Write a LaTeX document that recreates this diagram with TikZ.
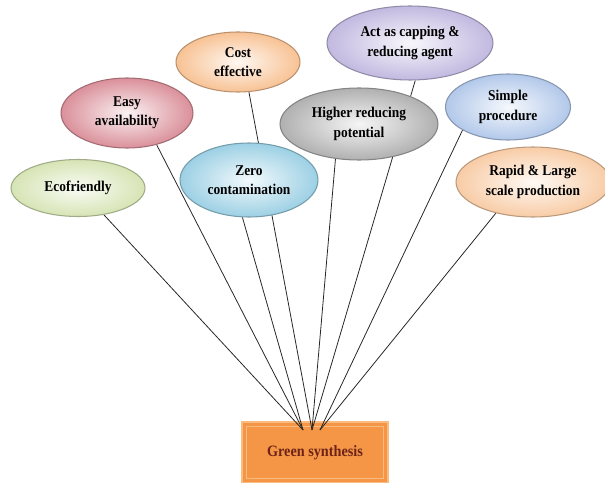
\documentclass[tikz,border=0pt]{standalone}
\usepackage{fontspec}
\setmainfont[FakeStretch=0.9]{Liberation Serif}
\usetikzlibrary{shapes.geometric,backgrounds}

\definecolor{ecoC}{RGB}{214,228,180}
\definecolor{easyC}{RGB}{218,144,154}
\definecolor{costC}{RGB}{248,194,148}
\definecolor{zeroC}{RGB}{156,208,228}
\definecolor{higherC}{RGB}{176,176,176}
\definecolor{actC}{RGB}{194,185,224}
\definecolor{simpleC}{RGB}{178,200,234}
\definecolor{rapidC}{RGB}{248,204,166}
\definecolor{boxC}{RGB}{244,150,70}
\definecolor{boxEdge}{RGB}{248,188,128}
\definecolor{gsText}{RGB}{110,35,25}

\tikzset{
  bubble/.style={ellipse, draw=#1!75!black, line width=0.6pt,
    inner color=#1!12!white, outer color=#1, inner sep=0pt, align=center,
    font=\fontsize{8.5}{11}\selectfont\bfseries},
  spoke/.style={draw=black!85, line width=0.45pt}
}

\begin{document}
\begin{tikzpicture}[x=0.02cm,y=-0.02cm]
    \useasboundingbox (0,0) rectangle (605,483);

    % Benefit bubbles
    \node[bubble=ecoC, minimum width=2.68cm, minimum height=1.14cm] (eco) at (78,188) {Ecofriendly};
    \node[bubble=easyC, minimum width=2.64cm, minimum height=1.40cm] (easy) at (127,113) {Easy\\availability};
    \node[bubble=costC, minimum width=2.48cm, minimum height=1.20cm] (cost) at (238,62) {Cost\\effective};
    \node[bubble=zeroC, minimum width=2.76cm, minimum height=1.48cm] (zero) at (249,180) {Zero\\contamination};
    \node[bubble=actC, minimum width=3.32cm, minimum height=1.48cm] (act) at (410,43) {Act as capping \&\\reducing agent};
    \node[bubble=higherC, minimum width=3.16cm, minimum height=1.44cm] (higher) at (359,124) {Higher reducing\\potential};
    \node[bubble=simpleC, minimum width=2.50cm, minimum height=1.32cm] (simple) at (508,107) {Simple\\procedure};
    \node[bubble=rapidC, minimum width=3.08cm, minimum height=1.40cm] (rapid) at (533,182) {Rapid \& Large\\scale production};

    \begin{scope}[on background layer]
      % Green synthesis box
      \node[draw=boxEdge, line width=1.6pt, fill=boxC, minimum width=2.92cm, minimum height=1.22cm,
        font=\fontsize{9}{10}\selectfont\bfseries, text=gsText] (gs) at (315,452.5) {Green synthesis};
      \draw[boxEdge, line width=0.6pt] ([shift={(6,6)}]gs.north west) rectangle ([shift={(-6,-6)}]gs.south east);

      % Meeting points
      \coordinate (p1) at (303,430);
      \coordinate (p2) at (312,430);
      \coordinate (p3) at (320,430);

      % Spokes
      \draw[spoke] (eco.-46) -- (p1);
      \draw[spoke] (easy.-47) -- (p1);
      \draw[spoke] (zero.-100) -- (p1);
      \draw[spoke] (cost.-70) -- (p2);
      \draw[spoke] (higher.-124) -- (p2);
      \draw[spoke] (act.-82) -- (p2);
      \draw[spoke] (simple.-153) -- (p3);
      \draw[spoke] (rapid.-140) -- (p3);
    \end{scope}
\end{tikzpicture}
\end{document}
